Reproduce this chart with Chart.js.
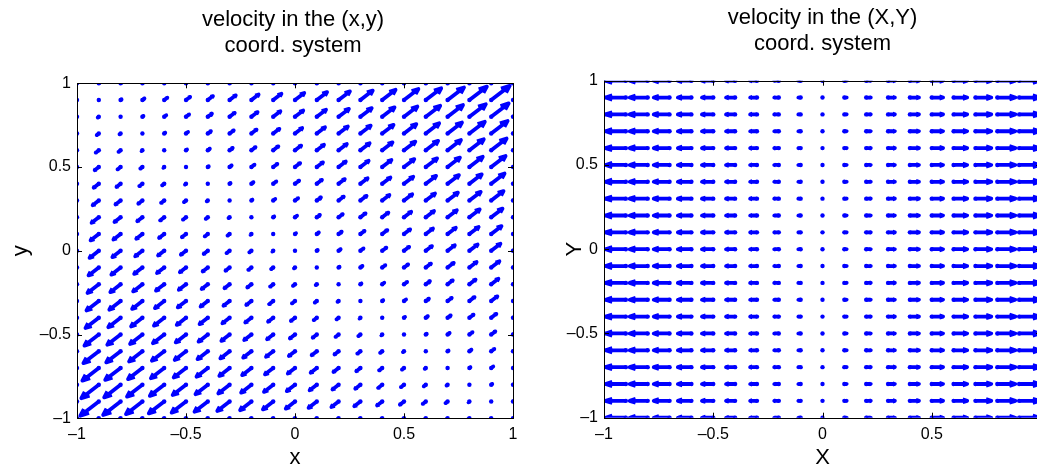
<!DOCTYPE html>
<html>
<head>
<meta charset="utf-8">
<script src="https://cdn.jsdelivr.net/npm/chart.js@4.4.1/dist/chart.umd.min.js"></script>
<style>
html, body { margin: 0; padding: 0; background: #fff; overflow: hidden; width: 1037px; height: 468px; }
canvas { position: absolute; top: 0; }
#left-chart { left: 0; }
#right-chart { left: 530px; }
</style>
</head>
<body>
<canvas id="left-chart" width="586" height="468"></canvas>
<canvas id="right-chart" width="585" height="468"></canvas>
<script>
// grid of arrow bases (same for both panels)
const gridX = [-1, -0.9, -0.8, -0.7, -0.6, -0.5, -0.4, -0.3, -0.2, -0.1, 0, 0.1, 0.2, 0.3, 0.4, 0.5, 0.6, 0.7, 0.8, 0.9, 1]
const gridY = [-1, -0.9, -0.8, -0.7, -0.6, -0.5, -0.4, -0.3, -0.2, -0.1, 0, 0.1, 0.2, 0.3, 0.4, 0.5, 0.6, 0.7, 0.8, 0.9, 1]
const tickValues = [-1, -0.5, 0, 0.5, 1]

// left panel: both components equal, indexed by column + row (zero on the anti-diagonal)
const leftSpeed = [-2, -1.9, -1.8, -1.7, -1.6, -1.5, -1.4, -1.3, -1.2, -1.1, -1, -0.9, -0.8, -0.7, -0.6, -0.5, -0.4, -0.3, -0.2, -0.1,
    0, 0.1, 0.2, 0.3, 0.4, 0.5, 0.6, 0.7, 0.8, 0.9, 1, 1.1, 1.2, 1.3, 1.4, 1.5, 1.6, 1.7, 1.8, 1.9, 2]
// right panel: horizontal component per column, no vertical part
const rightSpeed = [-1, -0.9, -0.8, -0.7, -0.6, -0.5, -0.4, -0.3, -0.2, -0.1, 0, 0.1, 0.2, 0.3, 0.4, 0.5, 0.6, 0.7, 0.8, 0.9, 1]

const BLUE = '#0000ff'
const FONT = 'Liberation Sans, Arial, Helvetica, sans-serif'

// build arrow polylines (shaft + head) like matlab quiver
function arrows(uv, scale) {
    const pts = []
    const gap = {x: NaN, y: NaN}
    gridX.forEach((x, i) => {
        gridY.forEach((y, j) => {
            const [u0, v0] = uv(i, j)
            const u = u0 * scale, v = v0 * scale
            if (u === 0 && v === 0) return
            const tx = x + u, ty = y + v
            const a = 0.33, b = 0.42
            pts.push({x: x, y: y}, {x: tx, y: ty}, gap)
            pts.push({x: tx - a * (u + b * v), y: ty - a * (v - b * u)}, {x: tx, y: ty},
                {x: tx - a * (u - b * v), y: ty - a * (v + b * u)}, gap)
        })
    })
    return pts
}

function bases() {
    const pts = []
    gridX.forEach(x => gridY.forEach(y => pts.push({x: x, y: y})))
    return pts
}

const fmt = v => v < 0 ? '\u2013' + Math.abs(v) : String(v)

// matlab style box with inward ticks
const boxPlugin = {
    id: 'box',
    afterDatasetsDraw(chart) {
        const {ctx, chartArea: a, scales} = chart
        ctx.save()
        ctx.strokeStyle = '#000'
        ctx.lineWidth = 1
        ctx.strokeRect(Math.round(a.left) + 0.5, Math.round(a.top) + 0.5, Math.round(a.width), Math.round(a.height))
        ctx.beginPath()
        tickValues.forEach(t => {
            const px = Math.round(scales.x.getPixelForValue(t)) + 0.5
            ctx.moveTo(px, a.bottom); ctx.lineTo(px, a.bottom - 5)
            ctx.moveTo(px, a.top); ctx.lineTo(px, a.top + 5)
            const py = Math.round(scales.y.getPixelForValue(t)) + 0.5
            ctx.moveTo(a.left, py); ctx.lineTo(a.left + 5, py)
            ctx.moveTo(a.right, py); ctx.lineTo(a.right - 5, py)
        })
        ctx.stroke()
        ctx.restore()
    }
}

function makeChart(id, cfg) {
    return new Chart(id, {
        type: 'scatter',
        data: {
            datasets: [{
                data: arrows(cfg.uv, cfg.scale),
                showLine: true,
                spanGaps: false,
                borderColor: BLUE,
                borderWidth: 3.8,
                borderJoinStyle: 'round',
                pointRadius: 0,
                tension: 0
            }, {
                data: bases(),
                pointRadius: 2.2,
                pointBackgroundColor: BLUE,
                pointBorderWidth: 0
            }]
        },
        options: {
            responsive: false,
            animation: false,
            devicePixelRatio: 1,
            layout: {padding: 0},
            plugins: {
                legend: {display: false},
                tooltip: {enabled: false},
                title: {
                    display: true,
                    text: cfg.title,
                    color: '#000',
                    font: {family: FONT, size: 22, weight: 'normal', lineHeight: 1.2},
                    padding: {top: cfg.titleTop, bottom: cfg.titleBottom}
                }
            },
            scales: {
                x: {
                    type: 'linear',
                    min: -1, max: 1,
                    grid: {display: false, drawTicks: false},
                    border: {display: false},
                    ticks: {stepSize: 0.5, color: '#000', padding: 7, font: {family: FONT, size: 16}, callback: fmt},
                    title: {display: true, text: cfg.xLabel, color: '#000',
                        font: {family: FONT, size: 22, lineHeight: 1.2}, padding: {top: 0, bottom: -3}},
                    afterFit: s => { s.height = cfg.xHeight }
                },
                y: {
                    type: 'linear',
                    min: -1, max: 1,
                    grid: {display: false, drawTicks: false},
                    border: {display: false},
                    ticks: {stepSize: 0.5, color: '#000', padding: 6, font: {family: FONT, size: 16}, callback: fmt},
                    title: {display: true, text: cfg.yLabel, color: '#000',
                        font: {family: FONT, size: 22, lineHeight: 1.2}, padding: {top: cfg.yTitlePad, bottom: 0}},
                    afterFit: s => { s.width = cfg.yWidth }
                },
                // empty right side scale so the title centres over the plot box
                yRight: {
                    type: 'linear',
                    position: 'right',
                    min: -1, max: 1,
                    grid: {display: false, drawTicks: false},
                    border: {display: false},
                    ticks: {display: false},
                    afterFit: s => { s.width = cfg.rightWidth }
                }
            }
        },
        plugins: [boxPlugin]
    })
}

makeChart('left-chart', {
    title: ['velocity in the (x,y)', 'coord. system'],
    xLabel: 'x', yLabel: 'y',
    uv: (i, j) => [leftSpeed[i + j], leftSpeed[i + j]],
    scale: 0.047,
    yWidth: 77, rightWidth: 73, xHeight: 49.7,
    titleTop: 6.8, titleBottom: 23.7, yTitlePad: 7.4
})

makeChart('right-chart', {
    title: ['velocity in the (X,Y)', 'coord. system'],
    xLabel: 'X', yLabel: 'Y',
    uv: (i, j) => [rightSpeed[i], 0],
    scale: 0.103,
    yWidth: 74, rightWidth: 74, xHeight: 50.3,
    titleTop: 4.8, titleBottom: 23.1, yTitlePad: 31.4
})
</script>
</body>
</html>
